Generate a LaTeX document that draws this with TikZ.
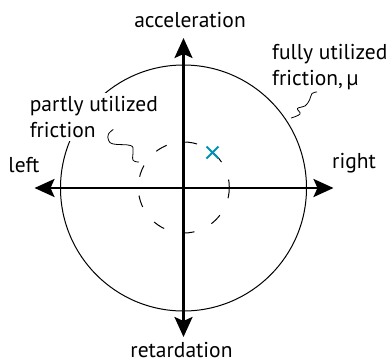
\documentclass[tikz,border=0pt]{standalone}
\usepackage{fontspec}
\setmainfont{PT Sans}
\usetikzlibrary{arrows.meta}
\definecolor{crossblue}{RGB}{0,146,178}

\begin{document}
\begin{tikzpicture}[x=1pt,y=1pt,line width=1pt,
  >={Stealth[length=20pt,width=18pt,inset=4pt]},
  lbl/.style={inner sep=0pt,font=\fontsize{21.5}{26}\selectfont}]
  \useasboundingbox (-183.5,-174) rectangle (203.5,188);
  % axes
  \coordinate (L) at (-149,0); \coordinate (R) at (150,0);
  \coordinate (T) at (0,150); \coordinate (B) at (0,-149);
  \draw[->,line width=2.6pt] (0,0)--(R); \draw[->,line width=2.6pt] (0,0)--(L);
  \draw[->,line width=2.6pt] (0,0)--(T); \draw[->,line width=2.6pt] (0,0)--(B);
  % friction circles
  \draw (0,0) circle[radius=123];
  \draw[dash pattern=on 12pt off 19pt,dash phase=4pt] (0.3,0.5) circle[radius=45.5];
  \draw[crossblue,line width=2pt] (23,29.5)--(35,41.5) (23,41.5)--(35,29.5);
  % labels
  \node[lbl,anchor=base] (acc) at (6.5,161) {acceleration};
  \node[lbl,anchor=base] (ret) at (-2,-169) {retardation};
  \node[lbl,anchor=base west] (left) at (-175.5,15.7) {left};
  \node[lbl,anchor=base west] (right) at (148.2,19.7) {right};
  \node[lbl,anchor=base west,align=left] (full) at (88.2,103) {fully utilized\\friction,\,μ};
  \node[lbl,anchor=base west,align=left,fill=white,inner sep=3pt] (part) at (-157.2,50.7) {partly utilized\\friction};
  % leaders
  \draw[line width=0.8pt] plot[smooth,tension=0.7] coordinates
    {(107.5,70) (116.5,74) (114,79.5) (121.5,82) (126,88) (128.5,94.5) (133.5,96)};
  \draw[line width=0.8pt] plot[smooth,tension=0.7] coordinates
    {(-70.2,58.5) (-75,54) (-75,48) (-70,44) (-53,42.5) (-50.5,37) (-50.5,28) (-44.5,26)};
\end{tikzpicture}
\end{document}
